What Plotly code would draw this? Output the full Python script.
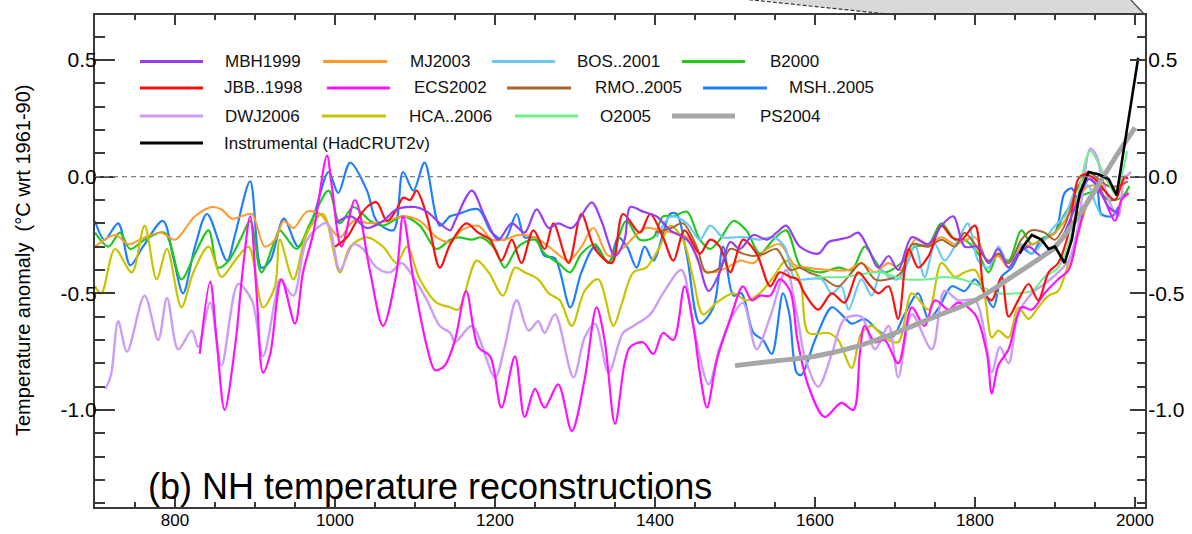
import plotly.graph_objects as go

# ---------------- data ----------------
msh_years = [700, 712, 729, 744, 760, 785, 798, 810, 825, 840, 865, 875, 894, 908, 919, 936, 954, 973, 992, 1004,
             1019, 1040, 1052, 1073, 1085, 1098, 1112, 1131, 1144, 1154, 1179, 1196, 1212, 1227, 1237, 1250, 1262,
             1275, 1294, 1308, 1325, 1342, 1354, 1365, 1377, 1387, 1398, 1419, 1427, 1440, 1456, 1473, 1485, 1498,
             1508, 1523, 1535, 1546, 1560, 1568, 1577, 1583, 1600, 1621, 1633, 1646, 1662, 1679, 1696, 1712, 1729,
             1742, 1755, 1771, 1787, 1800, 1812, 1823, 1833, 1846, 1860, 1871, 1883, 1900, 1912, 1921, 1929, 1942,
             1952, 1958, 1971, 1979]
msh_vals = [-0.19, -0.27, -0.2, -0.38, -0.3, -0.19, -0.35, -0.5, -0.3, -0.16, -0.36, -0.25, -0.02, -0.39, -0.36,
            -0.18, -0.3, -0.17, 0.02, -0.07, 0.06, -0.06, -0.19, -0.23, 0.02, -0.06, 0.06, -0.21, -0.17, -0.16, -0.14,
            -0.24, -0.27, -0.16, -0.26, -0.26, -0.34, -0.35, -0.56, -0.41, -0.3, -0.37, -0.26, -0.3, -0.39, -0.3,
            -0.36, -0.16, -0.16, -0.34, -0.63, -0.56, -0.3, -0.51, -0.5, -0.67, -0.7, -0.76, -0.5, -0.59, -0.84,
            -0.85, -0.7, -0.56, -0.59, -0.63, -0.61, -0.66, -0.69, -0.59, -0.5, -0.61, -0.56, -0.47, -0.49, -0.44,
            -0.5, -0.56, -0.43, -0.39, -0.31, -0.33, -0.27, -0.24, -0.07, -0.05, -0.1, -0.01, -0.04, -0.16, -0.17,
            -0.13]

b2000_years = [700, 717, 731, 744, 762, 787, 808, 825, 842, 854, 867, 883, 894, 908, 925, 931, 952, 969, 992, 1006,
               1023, 1044, 1060, 1085, 1106, 1127, 1144, 1154, 1171, 1183, 1200, 1212, 1229, 1250, 1262, 1279, 1294,
               1308, 1325, 1342, 1364, 1381, 1398, 1410, 1423, 1440, 1456, 1469, 1481, 1498, 1514, 1531, 1548, 1564,
               1581, 1592, 1608, 1629, 1646, 1662, 1675, 1687, 1708, 1725, 1742, 1758, 1775, 1787, 1804, 1817, 1829,
               1842, 1858, 1871, 1887, 1900, 1912, 1929, 1942, 1954, 1967, 1983, 1993]
b2000_vals = [-0.24, -0.3, -0.24, -0.31, -0.27, -0.24, -0.44, -0.33, -0.23, -0.39, -0.36, -0.26, -0.19, -0.41, -0.27,
              -0.23, -0.31, -0.2, -0.06, -0.2, -0.13, -0.19, -0.21, -0.17, -0.21, -0.31, -0.27, -0.26, -0.27, -0.26,
              -0.31, -0.39, -0.3, -0.27, -0.33, -0.37, -0.41, -0.33, -0.29, -0.37, -0.19, -0.27, -0.26, -0.17, -0.17,
              -0.15, -0.27, -0.31, -0.27, -0.19, -0.23, -0.33, -0.27, -0.23, -0.38, -0.4, -0.41, -0.39, -0.4, -0.3,
              -0.36, -0.41, -0.37, -0.3, -0.29, -0.2, -0.27, -0.27, -0.33, -0.41, -0.33, -0.36, -0.23, -0.29, -0.26,
              -0.24, -0.16, -0.09, -0.07, -0.06, -0.1, -0.09, -0.04]

mj_years = [700, 725, 742, 762, 783, 800, 825, 846, 858, 871, 883, 896, 912, 925, 936, 948, 965, 981, 1006, 1023,
            1044, 1065, 1085, 1106, 1127, 1144, 1158, 1179, 1196, 1212, 1229, 1250, 1271, 1292, 1308, 1323, 1342,
            1362, 1373, 1389, 1406, 1423, 1440, 1460, 1473, 1490, 1506, 1523, 1540, 1556, 1575, 1592, 1617, 1642,
            1658, 1675, 1692, 1708, 1725, 1742, 1758, 1775, 1800, 1817, 1829, 1842, 1858, 1871, 1887, 1900, 1912,
            1929, 1942, 1954, 1967, 1979]
mj_vals = [-0.3, -0.25, -0.29, -0.26, -0.24, -0.27, -0.17, -0.13, -0.14, -0.18, -0.17, -0.16, -0.3, -0.27, -0.19,
           -0.22, -0.15, -0.16, -0.26, -0.19, -0.2, -0.19, -0.17, -0.19, -0.26, -0.28, -0.23, -0.21, -0.27, -0.27,
           -0.25, -0.26, -0.31, -0.36, -0.3, -0.22, -0.34, -0.3, -0.26, -0.22, -0.23, -0.24, -0.26, -0.4, -0.41,
           -0.39, -0.36, -0.37, -0.31, -0.29, -0.38, -0.39, -0.4, -0.4, -0.37, -0.41, -0.37, -0.4, -0.27, -0.29,
           -0.26, -0.29, -0.26, -0.37, -0.34, -0.39, -0.3, -0.29, -0.27, -0.24, -0.19, -0.09, -0.04, -0.04, -0.04,
           -0.07]

hca_years = [700, 708, 725, 746, 762, 777, 790, 808, 823, 842, 858, 875, 892, 910, 925, 931, 948, 965, 985, 1006,
             1019, 1040, 1060, 1077, 1090, 1106, 1127, 1144, 1154, 1177, 1192, 1210, 1225, 1237, 1254, 1267, 1281,
             1296, 1312, 1329, 1348, 1358, 1373, 1389, 1406, 1419, 1435, 1448, 1460, 1477, 1498, 1514, 1531, 1548,
             1564, 1581, 1592, 1617, 1629, 1646, 1658, 1671, 1687, 1704, 1721, 1742, 1758, 1775, 1787, 1800, 1812,
             1821, 1829, 1842, 1854, 1867, 1879, 1892, 1904, 1917, 1929, 1942, 1952, 1960]
hca_vals = [-0.47, -0.5, -0.31, -0.41, -0.21, -0.44, -0.31, -0.56, -0.41, -0.3, -0.43, -0.36, -0.3, -0.56, -0.47,
            -0.27, -0.44, -0.24, -0.16, -0.41, -0.3, -0.26, -0.3, -0.37, -0.3, -0.44, -0.54, -0.56, -0.57, -0.36,
            -0.41, -0.51, -0.39, -0.41, -0.44, -0.5, -0.53, -0.64, -0.49, -0.44, -0.64, -0.55, -0.41, -0.39, -0.3,
            -0.21, -0.27, -0.44, -0.59, -0.54, -0.5, -0.53, -0.5, -0.43, -0.36, -0.44, -0.67, -0.67, -0.7, -0.82,
            -0.67, -0.64, -0.69, -0.71, -0.5, -0.57, -0.37, -0.43, -0.41, -0.4, -0.51, -0.69, -0.66, -0.69, -0.56,
            -0.61, -0.56, -0.51, -0.49, -0.37, -0.24, -0.1, -0.04, -0.06]

dwj_years = [713, 720, 729, 740, 762, 779, 790, 804, 821, 829, 844, 858, 879, 896, 910, 925, 931, 948, 965, 990,
             1006, 1023, 1035, 1052, 1069, 1083, 1094, 1115, 1131, 1144, 1150, 1171, 1200, 1212, 1227, 1242, 1254,
             1262, 1275, 1298, 1312, 1325, 1342, 1360, 1373, 1394, 1410, 1433, 1448, 1467, 1481, 1498, 1510, 1527,
             1544, 1564, 1578, 1587, 1604, 1621, 1637, 1658, 1675, 1692, 1704, 1721, 1746, 1762, 1779, 1800, 1812,
             1821, 1831, 1842, 1854, 1871, 1887, 1904, 1917, 1929, 1937, 1944, 1952, 1958, 1971, 1979, 1987, 1995]
dwj_vals = [-0.91, -0.85, -0.62, -0.75, -0.51, -0.7, -0.52, -0.74, -0.66, -0.73, -0.54, -0.81, -0.46, -0.53, -0.77,
            -0.53, -0.44, -0.51, -0.27, -0.2, -0.4, -0.29, -0.31, -0.39, -0.41, -0.37, -0.41, -0.53, -0.64, -0.67,
            -0.71, -0.64, -0.86, -0.73, -0.53, -0.66, -0.62, -0.67, -0.59, -0.86, -0.69, -0.63, -0.84, -0.67, -0.64,
            -0.59, -0.5, -0.4, -0.64, -0.89, -0.73, -0.59, -0.54, -0.74, -0.6, -0.4, -0.6, -0.77, -0.9, -0.76, -0.61,
            -0.6, -0.74, -0.64, -0.86, -0.59, -0.74, -0.49, -0.53, -0.53, -0.67, -0.84, -0.73, -0.8, -0.59, -0.5,
            -0.46, -0.41, -0.36, -0.21, 0.01, 0.12, 0.09, 0.0, -0.13, -0.17, -0.01, 0.02]

ecs_years = [831, 844, 852, 862, 875, 885, 894, 902, 910, 919, 933, 950, 960, 973, 990, 996, 1008, 1025, 1044, 1060,
             1077, 1085, 1098, 1115, 1125, 1137, 1150, 1164, 1179, 1194, 1208, 1225, 1237, 1250, 1262, 1279, 1296,
             1312, 1327, 1337, 1350, 1362, 1369, 1385, 1398, 1410, 1423, 1437, 1448, 1456, 1465, 1477, 1494, 1510,
             1521, 1531, 1544, 1556, 1569, 1578, 1592, 1612, 1633, 1648, 1656, 1662, 1675, 1687, 1704, 1721, 1737,
             1750, 1767, 1779, 1800, 1815, 1821, 1829, 1842, 1858, 1871, 1887, 1904, 1917, 1929, 1942, 1954, 1962,
             1975, 1983, 1992]
ecs_vals = [-0.76, -0.45, -0.7, -1.0, -0.73, -0.39, -0.17, -0.5, -0.84, -0.76, -0.44, -0.63, -0.41, -0.24, 0.09,
            -0.04, -0.3, -0.1, -0.41, -0.64, -0.41, -0.17, -0.44, -0.73, -0.83, -0.81, -0.7, -0.49, -0.73, -0.77,
            -0.99, -0.77, -1.03, -0.91, -0.99, -0.89, -1.09, -0.87, -0.56, -0.7, -1.06, -0.8, -0.73, -0.71, -0.76,
            -0.67, -0.7, -0.47, -0.64, -0.84, -0.99, -0.79, -0.61, -0.47, -0.53, -0.51, -0.51, -0.44, -0.49, -0.7,
            -0.9, -1.03, -0.97, -1.0, -0.76, -0.64, -0.71, -0.7, -0.8, -0.56, -0.64, -0.53, -0.57, -0.54, -0.59,
            -0.76, -0.93, -0.81, -0.74, -0.56, -0.57, -0.5, -0.44, -0.4, -0.24, -0.09, -0.06, -0.1, -0.19, -0.1,
            -0.07]

bos_years = [1402, 1420, 1440, 1456, 1469, 1485, 1498, 1514, 1531, 1548, 1562, 1575, 1587, 1608, 1621, 1633, 1642,
             1658, 1671, 1683, 1692, 1704, 1717, 1725, 1737, 1750, 1762, 1779, 1791, 1804, 1817, 1829, 1842, 1858,
             1871, 1887, 1900, 1912, 1929, 1942, 1950, 1958]
bos_vals = [-0.26, -0.17, -0.2, -0.27, -0.21, -0.26, -0.26, -0.26, -0.27, -0.26, -0.3, -0.44, -0.44, -0.44, -0.5,
            -0.47, -0.57, -0.44, -0.51, -0.4, -0.43, -0.44, -0.36, -0.29, -0.43, -0.29, -0.36, -0.27, -0.2, -0.36,
            -0.39, -0.3, -0.37, -0.29, -0.33, -0.27, -0.21, -0.17, -0.04, -0.04, -0.11, -0.17]

rmo_years = [1400, 1420, 1435, 1452, 1464, 1481, 1494, 1510, 1523, 1537, 1552, 1569, 1581, 1592, 1608, 1629, 1646,
             1658, 1675, 1692, 1708, 1721, 1742, 1758, 1775, 1787, 1804, 1817, 1829, 1842, 1858, 1871, 1887, 1900,
             1912, 1929, 1942, 1954, 1967, 1979, 1991]
rmo_vals = [-0.24, -0.22, -0.2, -0.3, -0.41, -0.39, -0.31, -0.33, -0.34, -0.33, -0.31, -0.4, -0.39, -0.41, -0.43,
            -0.47, -0.41, -0.37, -0.44, -0.44, -0.41, -0.29, -0.3, -0.27, -0.3, -0.24, -0.31, -0.36, -0.33, -0.37,
            -0.27, -0.23, -0.24, -0.27, -0.21, -0.04, 0.02, -0.01, -0.04, -0.04, -0.02]

o2005_years = [1600, 1637, 1679, 1712, 1742, 1762, 1783, 1800, 1829, 1850, 1871, 1887, 1904, 1921, 1931, 1944,
               1954, 1967, 1975, 1983, 1990]
o2005_vals = [-0.43, -0.43, -0.41, -0.44, -0.44, -0.43, -0.44, -0.46, -0.5, -0.5, -0.49, -0.43, -0.39, -0.24, -0.04,
              0.11, 0.06, -0.03, -0.07, 0.0, 0.11]

jbb_years = [1000, 1015, 1027, 1040, 1052, 1065, 1077, 1085, 1094, 1102, 1115, 1131, 1144, 1164, 1179, 1194, 1208,
             1221, 1233, 1248, 1262, 1273, 1292, 1308, 1325, 1346, 1360, 1381, 1394, 1410, 1423, 1437, 1456, 1469,
             1481, 1494, 1510, 1527, 1544, 1556, 1569, 1578, 1587, 1604, 1621, 1637, 1654, 1667, 1679, 1692, 1704,
             1717, 1729, 1742, 1758, 1771, 1783, 1800, 1812, 1821, 1833, 1842, 1854, 1867, 1879, 1892, 1904, 1917,
             1929, 1937, 1950, 1962, 1975, 1987, 1991]
jbb_vals = [-0.3, -0.26, -0.19, -0.13, -0.11, -0.19, -0.14, -0.09, -0.1, -0.06, -0.17, -0.39, -0.29, -0.2, -0.24,
            -0.27, -0.36, -0.27, -0.37, -0.23, -0.31, -0.2, -0.37, -0.16, -0.31, -0.37, -0.16, -0.24, -0.16, -0.26,
            -0.36, -0.23, -0.33, -0.27, -0.3, -0.41, -0.27, -0.33, -0.47, -0.41, -0.43, -0.44, -0.5, -0.57, -0.5,
            -0.54, -0.41, -0.46, -0.5, -0.47, -0.61, -0.31, -0.39, -0.34, -0.21, -0.26, -0.27, -0.21, -0.5, -0.53,
            -0.43, -0.6, -0.53, -0.46, -0.53, -0.41, -0.37, -0.24, -0.01, 0.01, -0.01, -0.06, -0.1, 0.0, -0.01]

mbh_years = [1000, 1020, 1040, 1060, 1077, 1100, 1115, 1131, 1144, 1150, 1171, 1187, 1204, 1221, 1237, 1252, 1267,
             1279, 1296, 1321, 1333, 1350, 1362, 1369, 1385, 1402, 1419, 1440, 1452, 1467, 1481, 1494, 1506, 1523,
             1540, 1552, 1564, 1581, 1604, 1617, 1629, 1642, 1654, 1667, 1679, 1692, 1704, 1721, 1742, 1758, 1773,
             1787, 1804, 1817, 1829, 1842, 1854, 1867, 1883, 1900, 1912, 1929, 1942, 1954, 1967, 1980]
mbh_vals = [-0.2, -0.17, -0.22, -0.19, -0.14, -0.13, -0.15, -0.2, -0.23, -0.19, -0.06, -0.17, -0.27, -0.2, -0.24,
            -0.14, -0.22, -0.2, -0.22, -0.11, -0.19, -0.34, -0.27, -0.13, -0.15, -0.17, -0.23, -0.27, -0.34, -0.49,
            -0.41, -0.28, -0.31, -0.25, -0.27, -0.24, -0.21, -0.3, -0.33, -0.28, -0.27, -0.26, -0.24, -0.31, -0.39,
            -0.34, -0.4, -0.26, -0.29, -0.21, -0.17, -0.3, -0.3, -0.37, -0.31, -0.39, -0.33, -0.3, -0.34, -0.31,
            -0.24, -0.1, -0.01, -0.04, -0.13, -0.16]

ps_years = [1500, 1550, 1600, 1650, 1700, 1750, 1800, 1850, 1900, 1925, 1950, 1975, 2000]
ps_vals = [-0.81, -0.79, -0.77, -0.73, -0.67, -0.6, -0.53, -0.42, -0.3, -0.19, -0.06, 0.08, 0.21]

inst_years = [1856, 1860, 1871, 1883, 1892, 1900, 1912, 1921, 1931, 1942, 1954, 1967, 1977, 1985, 1996, 2004]
inst_vals = [-0.33, -0.3, -0.25, -0.27, -0.31, -0.3, -0.37, -0.27, -0.07, 0.02, 0.01, -0.01, -0.08, 0.1, 0.34, 0.51]

x_tick_vals = [800, 1000, 1200, 1400, 1600, 1800, 2000]
y_tick_vals = [0.5, 0.0, -0.5, -1.0]
y_tick_text = ["0.5", "0.0", "-0.5", "-1.0"]

# ---------------- layout helpers ----------------
W, H = 1192, 534
ML, MR, MT, MB = 95, 47, 15, 27
PW = W - ML - MR
PH = H - MT - MB
FONT = "Liberation Sans, Arial, Helvetica, sans-serif"


def px(x):
    return (x - ML) / PW


def py(y):
    return (H - MB - y) / PH


series = [
    ("MSH..2005", msh_years, msh_vals, "#1f7fff", 2.2),
    ("B2000", b2000_years, b2000_vals, "#22c81e", 2.2),
    ("MJ2003", mj_years, mj_vals, "#ff9a2a", 2.0),
    ("HCA..2006", hca_years, hca_vals, "#c8c400", 2.2),
    ("DWJ2006", dwj_years, dwj_vals, "#cc9cf6", 2.4),
    ("ECS2002", ecs_years, ecs_vals, "#ff10ff", 2.2),
    ("BOS..2001", bos_years, bos_vals, "#6cc8f4", 2.2),
    ("RMO..2005", rmo_years, rmo_vals, "#a8652e", 2.0),
    ("O2005", o2005_years, o2005_vals, "#6cf08c", 2.0),
    ("JBB..1998", jbb_years, jbb_vals, "#ff1010", 2.2),
    ("MBH1999", mbh_years, mbh_vals, "#9a3cf2", 2.2),
    ("PS2004", ps_years, ps_vals, "#a6a6a6", 5.0),
]

fig = go.Figure()
for name, xs, ys, col, wd in series:
    fig.add_trace(go.Scatter(x=xs, y=ys, mode="lines", name=name, showlegend=False, hoverinfo="skip",
                             line=dict(color=col, width=wd, shape="spline", smoothing=0.9)))
fig.add_trace(go.Scatter(x=inst_years, y=inst_vals, mode="lines", name="Instrumental (HadCRUT2v)",
                         showlegend=False, hoverinfo="skip", yaxis="y2",
                         line=dict(color="#000000", width=2.6)))

# ---------------- manual legend ----------------
legend_items = [
    ("MBH1999", "#9a3cf2", 3, 140, 203, 223, 61.5),
    ("MJ2003", "#ff9a2a", 3, 323, 387, 408, 61.5),
    ("BOS..2001", "#6cc8f4", 3, 492, 555, 575, 61.5),
    ("B2000", "#22c81e", 3, 682, 745, 768, 61.5),
    ("JBB..1998", "#ff1010", 3, 140, 203, 222, 88),
    ("ECS2002", "#ff10ff", 3, 327, 390, 412, 88),
    ("RMO..2005", "#a8652e", 3, 507, 571, 593, 88),
    ("MSH..2005", "#1f7fff", 3, 703, 767, 787, 88),
    ("DWJ2006", "#cc9cf6", 3, 140, 203, 223, 116),
    ("HCA..2006", "#c8c400", 3, 322, 386, 407, 116),
    ("O2005", "#6cf08c", 3, 515, 578, 598, 116),
    ("PS2004", "#a6a6a6", 5, 672, 735, 758, 116),
    ("Instrumental (HadCRUT2v)", "#000000", 3, 140, 203, 222, 143),
]
shapes = []
annotations = []
for label, col, wd, x0, x1, tx, yy in legend_items:
    shapes.append(dict(type="line", xref="paper", yref="paper", x0=px(x0), x1=px(x1), y0=py(yy), y1=py(yy),
                       line=dict(color=col, width=wd)))
    annotations.append(dict(text=label, xref="paper", yref="paper", x=px(tx), y=py(yy), xanchor="left",
                            yanchor="middle", showarrow=False, font=dict(family=FONT, size=17, color="#111")))

# zero reference line
shapes.append(dict(type="line", xref="paper", yref="y", x0=0, x1=1, y0=0, y1=0,
                   line=dict(color="#808080", width=1.2, dash="5px,4px")))

# grey zoom wedge from the panel above
shapes.append(dict(type="path", xref="paper", yref="paper",
                   path=f"M {px(743)},{py(-2)} L {px(897)},{py(15)} L {px(1145)},{py(15)} L {px(1130)},{py(-2)} Z",
                   fillcolor="#d9d9d9", line=dict(width=0), layer="below"))
shapes.append(dict(type="line", xref="paper", yref="paper", x0=px(743), y0=py(-1), x1=px(897), y1=py(15),
                   line=dict(color="#333", width=1.2, dash="4px,2px")))
shapes.append(dict(type="line", xref="paper", yref="paper", x0=px(1130), y0=py(-1), x1=px(1145), y1=py(15),
                   line=dict(color="#444", width=1.2)))

annotations.append(dict(text="(b) NH temperature reconstructions", xref="paper", yref="paper", x=px(146),
                        y=py(486), xanchor="left", yanchor="middle", showarrow=False,
                        font=dict(family=FONT, size=36, color="#000")))
annotations.append(dict(text="Temperature anomaly  (°C wrt 1961-90)", xref="paper", yref="paper", x=px(23),
                        y=py(261), xanchor="center", yanchor="middle", textangle=-90, showarrow=False,
                        font=dict(family=FONT, size=20, color="#000")))

axis_common = dict(showgrid=False, zeroline=False, showline=True, linecolor="#3a3a3a", linewidth=2,
                   ticks="inside", tickcolor="#3a3a3a", tickwidth=2)

fig.update_layout(
    width=W, height=H, margin=dict(l=ML, r=MR, t=MT, b=MB, autoexpand=False),
    paper_bgcolor="white", plot_bgcolor="white", showlegend=False,
    font=dict(family=FONT, color="#000"),
    xaxis=dict(range=[700, 2012.5], tickvals=x_tick_vals, ticklen=10, mirror="ticks",
               tickfont=dict(family=FONT, size=17, color="#000"), ticklabelstandoff=-3,
               minor=dict(dtick=50, tick0=0, ticklen=5, ticks="inside", tickcolor="#3a3a3a", tickwidth=1.5),
               **axis_common),
    yaxis=dict(range=[-1.416, 0.693], tickvals=y_tick_vals, ticktext=y_tick_text, ticklen=20,
               tickfont=dict(family=FONT, size=21, color="#000"), ticklabelstandoff=-8,
               minor=dict(dtick=0.1, tick0=0, ticklen=10, ticks="inside", tickcolor="#3a3a3a", tickwidth=1.5),
               **axis_common),
    yaxis2=dict(range=[-1.416, 0.693], overlaying="y", side="right", tickvals=y_tick_vals, ticktext=y_tick_text,
                ticklen=15, tickfont=dict(family=FONT, size=21, color="#000"), ticklabelstandoff=-3,
                minor=dict(dtick=0.1, tick0=0, ticklen=8, ticks="inside", tickcolor="#3a3a3a", tickwidth=1.5),
                **axis_common),
    shapes=shapes,
    annotations=annotations,
)

fig.write_html("out.html")
